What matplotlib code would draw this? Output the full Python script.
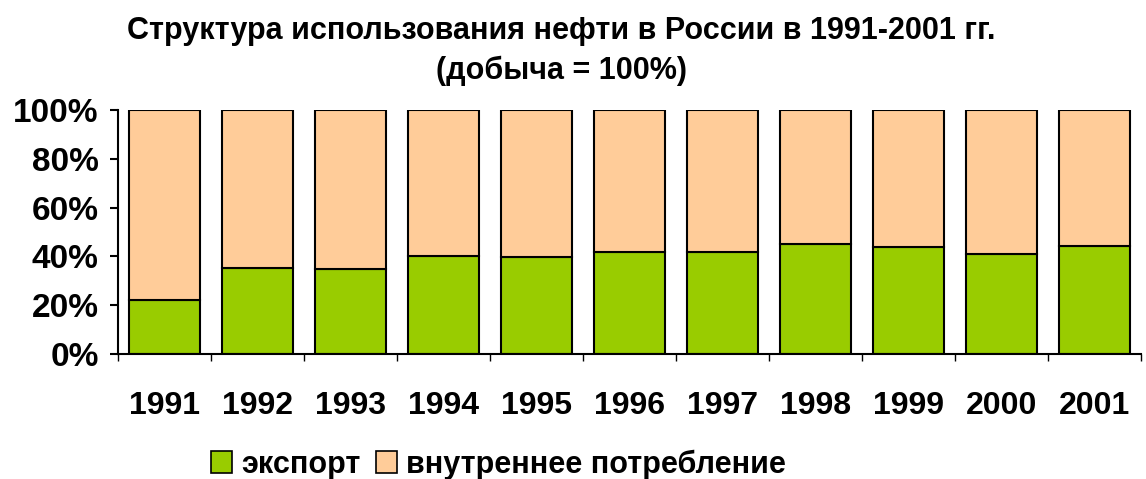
import numpy as np
import matplotlib
matplotlib.use("Agg")
import matplotlib.pyplot as plt
from matplotlib.ticker import FixedLocator, PercentFormatter
from matplotlib.patches import Patch

plt.rcParams['font.family'] = ['Liberation Sans', 'DejaVu Sans']
plt.rcParams['font.weight'] = 'bold'

# data (share of production, %)
years = ['1991', '1992', '1993', '1994', '1995', '1996',
         '1997', '1998', '1999', '2000', '2001']
export = [22.3, 35.4, 34.7, 40.2, 39.6, 41.7, 41.9, 45.1, 44.0, 41.0, 44.4]
domestic = [100 - v for v in export]

green = '#99CC00'
peach = '#FFCC99'

fig = plt.figure(figsize=(11.46, 4.79), dpi=100)
ax = fig.add_axes([118 / 1146, 1 - 354 / 479, (1141 - 118) / 1146, 244 / 479])

x = np.arange(len(years))
ax.bar(x, export, width=0.77, color=green, edgecolor='black', linewidth=1.5)
ax.bar(x, domestic, width=0.77, bottom=export, color=peach,
       edgecolor='black', linewidth=1.5)

ax.set_xlim(-0.5, len(years) - 0.5)
ax.set_ylim(0, 100)
ax.set_yticks([0, 20, 40, 60, 80, 100])
ax.yaxis.set_major_formatter(PercentFormatter(decimals=0))
ax.tick_params(axis='y', length=6, width=1.5, labelsize=24, pad=8)

ax.set_xticks(x)
ax.set_xticklabels(years)
ax.xaxis.set_minor_locator(FixedLocator(np.arange(-0.5, len(years), 1)))
ax.tick_params(axis='x', which='major', length=0, labelsize=23, pad=27)
ax.tick_params(axis='x', which='minor', length=5, width=1.0)

for s in ['top', 'right']:
    ax.spines[s].set_visible(False)
ax.spines['left'].set_linewidth(1.5)
ax.spines['bottom'].set_linewidth(1.5)

fig.text(0.49, 0.935, 'Структура использования нефти в России в 1991-2001 гг.',
         ha='center', va='center', fontsize=22, fontweight='bold')
fig.text(0.49, 0.852, '(добыча = 100%)',
         ha='center', va='center', fontsize=22, fontweight='bold')

handles = [Patch(facecolor=green, edgecolor='black', linewidth=1.2, label='экспорт'),
           Patch(facecolor=peach, edgecolor='black', linewidth=1.2, label='внутреннее потребление')]
fig.legend(handles=handles, loc='center', bbox_to_anchor=(0.435, 0.03),
           ncol=2, frameon=False, fontsize=22, handlelength=0.7, handleheight=0.7,
           handletextpad=0.3, columnspacing=0.5)

fig.savefig('out.png', dpi=100)
